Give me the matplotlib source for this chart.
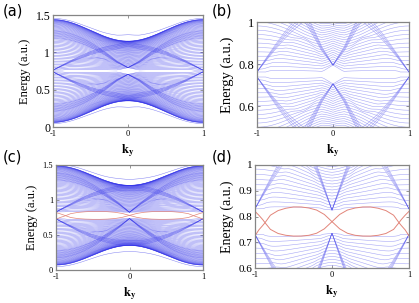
import numpy as np
import matplotlib
matplotlib.use('Agg')
import matplotlib.pyplot as plt

plt.rcParams['mathtext.fontset'] = 'stix'

# ---------------- data ----------------
ky = np.linspace(-1, 1, 401)

# panel (a)/(b): centre of the bulk gap, upper band-edge offsets (ky=0, ky=±1),
# amplitude of the dispersive "V" band, half-gap (ky=0, elsewhere)
center_ab = 0.75
env_ab = [0.40, 0.69]
vband_ab = 0.53
gap_ab = [0.045, 0.012]

# panel (c)/(d)
center_cd = 0.78
env_cd = [0.43, 0.71]
vband_cd = 0.56
gap_cd = [0.045, 0.05]

n_flat = 50                                # quasi-flat subbands per half
bundle_w = [0.80, 0.85, 0.90, 0.95, 1.0]   # spread of the dispersive bundles
coupling = 0.006                           # hybridisation strength
cross_coupling = 0.02

# edge states
edge_k = [-1, -0.95, -0.9, -0.87, -0.8, -0.7, -0.6, -0.5, -0.4, -0.3, -0.2, -0.1, 0,
          0.1, 0.2, 0.3, 0.4, 0.5, 0.6, 0.7, 0.8, 0.87, 0.9, 0.95, 1]
edge_e1 = [0.820, 0.805, 0.788, 0.776, 0.750, 0.734, 0.727, 0.724, 0.724, 0.727, 0.735, 0.752, 0.780,
           0.808, 0.825, 0.833, 0.837, 0.837, 0.832, 0.823, 0.805, 0.776, 0.765, 0.748, 0.725]
edge_e2 = edge_e1[::-1]


def bulk_lines(center, env, vamp, gap):
    g = gap[1] + (gap[0] - gap[1]) * np.clip(1 - np.abs(ky) / 0.15, 0, 1)
    U = (env[0] + env[1]) / 2 - (env[1] - env[0]) / 2 * np.cos(np.pi * ky) - g
    f = np.sin(np.pi / 2 * (np.arange(n_flat) + 0.5) / n_flat)
    flat = f[:, None] * U[None, :]
    a0 = env[0] - gap[0]
    A = a0 * np.cos(np.pi * ky / 2)
    B = vamp * np.sin(np.pi * np.abs(ky) / 2)
    disp = [w * A for w in bundle_w] + [w * B for w in bundle_w]
    diag = np.vstack([flat] + disp)          # (N, K)
    N = diag.shape[0]
    nA = len(bundle_w)
    H = np.zeros((len(ky), N, N))
    idx = np.arange(N)
    H[:, idx, idx] = diag.T
    H[:, :n_flat, n_flat:] = coupling
    H[:, n_flat:, :n_flat] = coupling
    a_sl = slice(n_flat, n_flat + nA)
    b_sl = slice(n_flat + nA, N)
    H[:, a_sl, b_sl] = cross_coupling
    H[:, b_sl, a_sl] = cross_coupling
    ev = np.linalg.eigvalsh(H)               # (K, N)
    ev = np.clip(ev, 0, None)
    up = center + g[:, None] + ev
    dn = center - g[:, None] - ev
    return np.hstack([up, dn])


fig = plt.figure(figsize=(4.19, 3.03), dpi=100)
axes_pos = {
    'a': [53/419, 1-127/303, 150/419, 112/303],
    'b': [257/419, 1-127/303, 152/419, 105/303],
    'c': [56/419, 1-270/303, 147/419, 105/303],
    'd': [255/419, 1-268/303, 154/419, 103/303],
}
spine_c = '#858585'
blue = '#2b2be8'
red = '#e2857a'
serif = 'Liberation Serif'


def style(ax, ylim, yt, ytl, fs_y, fs_x, ylabel_fs):
    ax.set_xlim(-1, 1)
    ax.set_ylim(*ylim)
    ax.set_xticks([-1, 0, 1])
    ax.set_xticklabels(['-1', '0', '1'], family=serif, fontsize=fs_x)
    ax.set_yticks(yt)
    ax.set_yticklabels(ytl, family=serif, fontsize=fs_y)
    for s in ax.spines.values():
        s.set_color(spine_c)
        s.set_linewidth(0.9)
    ax.tick_params(direction='in', length=2.5, width=0.6, color=spine_c,
                   top=True, right=True, pad=2)
    ax.set_ylabel('Energy (a.u.)', family=serif, fontsize=ylabel_fs, labelpad=3)
    ax.set_xlabel(r'$\mathbf{k}_\mathbf{y}$', fontsize=9, labelpad=3)


bands_ab = bulk_lines(center_ab, env_ab, vband_ab, gap_ab)
bands_cd = bulk_lines(center_cd, env_cd, vband_cd, gap_cd)

# (a)
ax = fig.add_axes(axes_pos['a'])
ax.plot(ky, bands_ab, color=blue, lw=0.35, alpha=0.6)
style(ax, (0, 1.5), [0, 0.5, 1, 1.5], ['0', '0.5', '1', '1.5'], 8.5, 6, 9)

# (b)
ax = fig.add_axes(axes_pos['b'])
ax.plot(ky, bands_ab, color=blue, lw=0.4, alpha=0.42)
style(ax, (0.5, 1.0), [0.6, 0.8, 1.0], ['0.6', '0.8', '1'], 9, 6, 10.5)

# (c)
ax = fig.add_axes(axes_pos['c'])
ax.plot(ky, bands_cd, color=blue, lw=0.35, alpha=0.6)
ax.plot(edge_k, edge_e1, color=red, lw=0.5)
ax.plot(edge_k, edge_e2, color=red, lw=0.5)
style(ax, (0, 1.5), [0, 0.5, 1, 1.5], ['0', '0.5', '1', '1.5'], 6, 6, 9)

# (d)
ax = fig.add_axes(axes_pos['d'])
ax.plot(ky, bands_cd, color=blue, lw=0.4, alpha=0.42)
ax.plot(edge_k, edge_e1, color=red, lw=0.7)
ax.plot(edge_k, edge_e2, color=red, lw=0.7)
style(ax, (0.6, 1.0), [0.6, 0.7, 0.8, 0.9, 1.0], ['0.6', '0.7', '0.8', '0.9', '1'], 8, 6, 10)

for lab, (x, y) in zip(['(a)', '(b)', '(c)', '(d)'], [(3, 4), (212, 4), (3, 149), (212, 149)]):
    fig.text(x/419, 1-y/303, lab, ha='left', va='top', fontsize=10.5, family='DejaVu Sans')

fig.savefig('out.png', dpi=100)
